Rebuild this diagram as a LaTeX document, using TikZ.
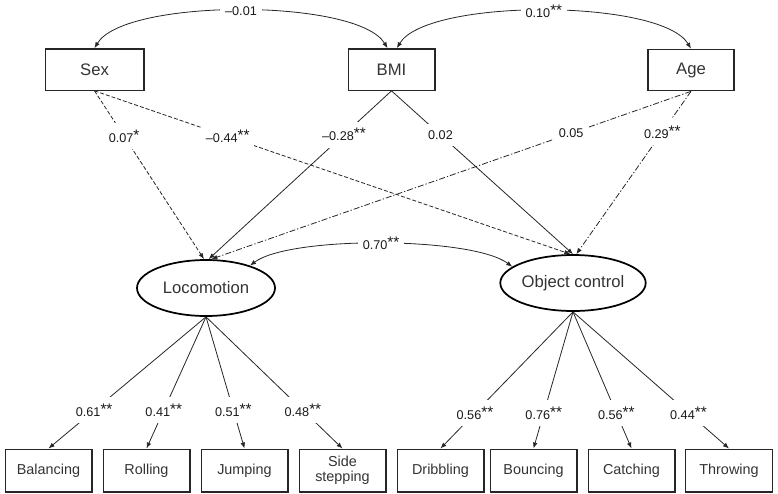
\documentclass[tikz,border=0pt]{standalone}
\usepackage{fontspec}
\setmainfont{Liberation Sans}
\usetikzlibrary{shapes.geometric,arrows.meta}
\newcommand{\sig}[1]{\raisebox{0.15em}{\fontsize{11.5}{11.5}\selectfont#1}}

\begin{document}
\begin{tikzpicture}[x=0.75pt,y=-0.75pt,
	>={Latex[length=4.5pt,width=3.5pt]},
	obs/.style={draw=black!85,line width=1pt,inner sep=0pt,minimum height=31pt,font=\fontsize{12.5}{14}\selectfont,text=black!80},
	ind/.style={draw=black!85,line width=1pt,inner sep=0pt,minimum width=65pt,minimum height=32pt,align=center,font=\fontsize{10.8}{11.5}\selectfont,text=black!80},
	lat/.style={ellipse,draw=black,line width=1.3pt,inner sep=0pt,minimum width=103.5pt,minimum height=42pt,font=\fontsize{12.5}{14}\selectfont,text=black!80},
	arr/.style={draw=black!85,line width=0.6pt,->},
	cov/.style={draw=black!85,line width=0.6pt,<->},
	est/.style={fill=white,inner xsep=3.5pt,inner ysep=5pt,font=\fontsize{9.5}{10}\selectfont,text=black!90},
	sexline/.style={dash pattern=on 3pt off 1.5pt},
	ageline/.style={dash pattern=on 4.5pt off 1.5pt on 1pt off 1.5pt}]
	\useasboundingbox (0,0) rectangle (778,493);
	\node[obs,minimum width=74pt] (sex) at (94.5,69.5) {Sex};
	\node[obs,minimum width=65pt] (bmi) at (391.5,69.5) {BMI};
	\node[obs,minimum width=64.5pt] (age) at (691,70) {Age};
	\node[lat] (loco) at (206,288) {Locomotion};
	\node[lat] (obj) at (573,283) {Object control};
	\node[ind] (bal) at (48.5,470.5) {Balancing};
	\node[ind] (rol) at (146.5,470.5) {Rolling};
	\node[ind] (jum) at (244.5,470.5) {Jumping};
	\node[ind] (sid) at (342.5,470.5) {Side\\stepping};
	\node[ind] (dri) at (440.5,470.5) {Dribbling};
	\node[ind] (bou) at (533.5,470.5) {Bouncing};
	\node[ind] (cat) at (631.5,470.5) {Catching};
	\node[ind] (thr) at (729,470.5) {Throwing};
	\draw[cov] (sex.north) .. controls +(30,-50) and +(-30,-50) .. ([xshift=-3pt]bmi.north) node[est,pos=0.5] {–0.01};
	\draw[cov] ([xshift=4pt]bmi.north) .. controls +(30,-50) and +(-30,-50) .. (age.north) node[est,pos=0.5] {0.10\sig{**}};
	\draw[cov] (loco.27) .. controls +(40,-30) and +(-40,-30) .. (obj.165) node[est,pos=0.5] {0.70\sig{**}};
	\draw[arr,sexline] (sex.south) -- ([xshift=-1.5pt]loco.north) node[est,pos=0.27] {0.07\sig{*}};
	\draw[arr,sexline] (sex.south) -- ([xshift=-2pt]obj.north) node[est,pos=0.28] {–0.44\sig{**}};
	\draw[arr] (bmi.south) -- ([xshift=2pt]loco.north) node[est,pos=0.26] {–0.28\sig{**}};
	\draw[arr] (bmi.south) -- (obj.north) node[est,pos=0.27] {0.02};
	\draw[arr,ageline] (age.south) -- ([xshift=4pt]loco.north) node[est,pos=0.25] {0.05};
	\draw[arr,ageline] (age.south) -- ([xshift=2.5pt]obj.north) node[est,pos=0.25] {0.29\sig{**}};
	\foreach \n/\v in {bal/0.61,rol/0.41,jum/0.51,sid/0.48}
		\draw[arr] (loco.south) -- (\n.north) node[est,pos=0.71] {\v\sig{**}};
	\foreach \n/\v in {dri/0.56,bou/0.76,cat/0.56,thr/0.44}
		\draw[arr] (obj.south) -- (\n.north) node[est,pos=0.74] {\v\sig{**}};
\end{tikzpicture}
\end{document}
